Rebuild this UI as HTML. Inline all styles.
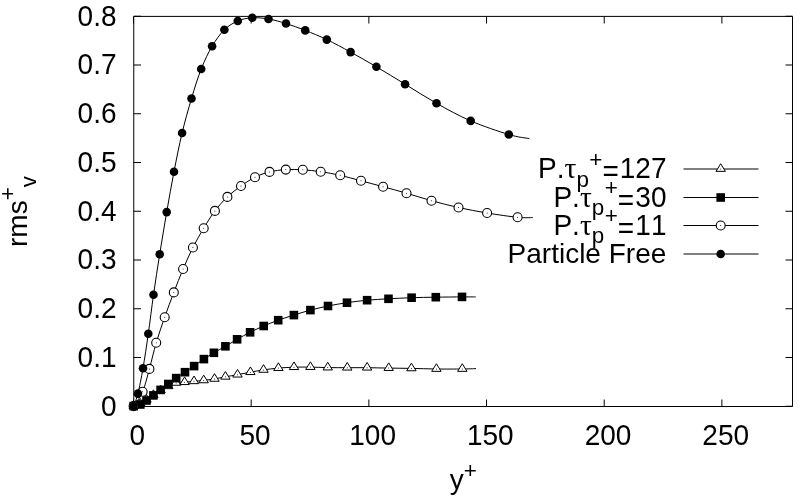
<!DOCTYPE html><html><head><meta charset="utf-8"><style>html,body{margin:0;padding:0;background:#fff;}svg{display:block;}text{font-family:"Liberation Sans",Arial,sans-serif;fill:#000;font-kerning:none;}</style></head><body>
<svg width="800" height="499" viewBox="0 0 800 499">
<rect x="0" y="0" width="800" height="499" fill="#fff"/>
<path d="M133.75,406.25H141.00 M792.50,406.25H785.50 M133.75,357.50H141.00 M792.50,357.50H785.50 M133.75,308.75H141.00 M792.50,308.75H785.50 M133.75,260.00H141.00 M792.50,260.00H785.50 M133.75,211.25H141.00 M792.50,211.25H785.50 M133.75,162.50H141.00 M792.50,162.50H785.50 M133.75,113.75H141.00 M792.50,113.75H785.50 M133.75,65.00H141.00 M792.50,65.00H785.50 M133.75,16.25H141.00 M792.50,16.25H785.50 M133.50,406.50V399.50 M133.50,16.50V23.50 M251.18,406.50V399.50 M251.18,16.50V23.50 M368.86,406.50V399.50 M368.86,16.50V23.50 M486.54,406.50V399.50 M486.54,16.50V23.50 M604.21,406.50V399.50 M604.21,16.50V23.50 M721.89,406.50V399.50 M721.89,16.50V23.50" stroke="#000" stroke-width="1" fill="none"/>
<path d="M133.75,16.4H792.5V406.5H133.75Z" stroke="#000" stroke-width="1" fill="none"/>
<text transform="translate(116.5,415.58) scale(1,1.050)" font-size="28" text-anchor="end">0</text>
<text transform="translate(116.5,366.83) scale(1,1.050)" font-size="28" text-anchor="end">0.1</text>
<text transform="translate(116.5,318.08) scale(1,1.050)" font-size="28" text-anchor="end">0.2</text>
<text transform="translate(116.5,269.33) scale(1,1.050)" font-size="28" text-anchor="end">0.3</text>
<text transform="translate(116.5,220.58) scale(1,1.050)" font-size="28" text-anchor="end">0.4</text>
<text transform="translate(116.5,171.83) scale(1,1.050)" font-size="28" text-anchor="end">0.5</text>
<text transform="translate(116.5,123.08) scale(1,1.050)" font-size="28" text-anchor="end">0.6</text>
<text transform="translate(116.5,74.33) scale(1,1.050)" font-size="28" text-anchor="end">0.7</text>
<text transform="translate(116.5,25.58) scale(1,1.050)" font-size="28" text-anchor="end">0.8</text>
<text transform="translate(137.30,445.0) scale(1,1.050)" font-size="28" text-anchor="middle">0</text>
<text transform="translate(254.98,445.0) scale(1,1.050)" font-size="28" text-anchor="middle">50</text>
<text transform="translate(372.66,445.0) scale(1,1.050)" font-size="28" text-anchor="middle">100</text>
<text transform="translate(490.34,445.0) scale(1,1.050)" font-size="28" text-anchor="middle">150</text>
<text transform="translate(608.01,445.0) scale(1,1.050)" font-size="28" text-anchor="middle">200</text>
<text transform="translate(725.69,445.0) scale(1,1.050)" font-size="28" text-anchor="middle">250</text>
<text x="449.7" y="489.3" font-size="28">y<tspan font-size="22.4" dy="-11.8">+</tspan></text>
<text transform="translate(27,247) rotate(-90)" font-size="28">rms<tspan font-size="22.4" dy="-11.6">+</tspan><tspan font-size="22.4" dy="20.4">v</tspan></text>
<path d="M133.70,406.10 C134.80,405.72 138.17,404.85 140.30,403.80 C142.43,402.75 144.32,401.25 146.50,399.80 C148.68,398.35 151.05,396.68 153.40,395.10 C155.75,393.52 158.12,391.77 160.60,390.30 C163.08,388.83 165.72,387.53 168.30,386.30 C170.88,385.07 173.38,383.58 176.10,382.90 C178.82,382.22 181.62,382.47 184.60,382.20 C187.58,381.93 190.82,381.60 194.00,381.30 C197.18,381.00 200.28,380.80 203.70,380.40 C207.12,380.00 210.88,379.50 214.50,378.90 C218.12,378.30 221.57,377.50 225.40,376.80 C229.23,376.10 233.33,375.47 237.50,374.70 C241.67,373.93 246.07,373.00 250.40,372.20 C254.73,371.40 258.83,370.58 263.50,369.90 C268.17,369.22 273.32,368.55 278.40,368.10 C283.48,367.65 288.67,367.37 294.00,367.20 C299.33,367.03 304.77,367.03 310.40,367.10 C316.02,367.17 321.61,367.50 327.75,367.60 C333.89,367.70 340.69,367.68 347.25,367.70 C353.81,367.72 360.19,367.63 367.10,367.70 C374.01,367.77 381.32,367.98 388.70,368.10 C396.08,368.22 403.45,368.25 411.40,368.40 C419.35,368.55 427.92,368.90 436.40,369.00 C444.88,369.10 455.70,369.07 462.30,369.00 C468.90,368.93 473.72,368.67 476.00,368.60" stroke="#000" stroke-width="1" fill="none"/>
<path d="M140.30,398.54 L135.60,406.15 L145.00,406.15 Z" fill="#fff" stroke="#000" stroke-width="1"/><circle cx="140.30" cy="403.80" r="0.5" fill="#000"/>
<path d="M146.50,394.54 L141.80,402.15 L151.20,402.15 Z" fill="#fff" stroke="#000" stroke-width="1"/><circle cx="146.50" cy="399.80" r="0.5" fill="#000"/>
<path d="M153.40,389.84 L148.70,397.45 L158.10,397.45 Z" fill="#fff" stroke="#000" stroke-width="1"/><circle cx="153.40" cy="395.10" r="0.5" fill="#000"/>
<path d="M160.60,385.04 L155.90,392.65 L165.30,392.65 Z" fill="#fff" stroke="#000" stroke-width="1"/><circle cx="160.60" cy="390.30" r="0.5" fill="#000"/>
<path d="M168.30,381.04 L163.60,388.65 L173.00,388.65 Z" fill="#fff" stroke="#000" stroke-width="1"/><circle cx="168.30" cy="386.30" r="0.5" fill="#000"/>
<path d="M176.10,377.64 L171.40,385.25 L180.80,385.25 Z" fill="#fff" stroke="#000" stroke-width="1"/><circle cx="176.10" cy="382.90" r="0.5" fill="#000"/>
<path d="M184.60,376.94 L179.90,384.55 L189.30,384.55 Z" fill="#fff" stroke="#000" stroke-width="1"/><circle cx="184.60" cy="382.20" r="0.5" fill="#000"/>
<path d="M194.00,376.04 L189.30,383.65 L198.70,383.65 Z" fill="#fff" stroke="#000" stroke-width="1"/><circle cx="194.00" cy="381.30" r="0.5" fill="#000"/>
<path d="M203.70,375.14 L199.00,382.75 L208.40,382.75 Z" fill="#fff" stroke="#000" stroke-width="1"/><circle cx="203.70" cy="380.40" r="0.5" fill="#000"/>
<path d="M214.50,373.64 L209.80,381.25 L219.20,381.25 Z" fill="#fff" stroke="#000" stroke-width="1"/><circle cx="214.50" cy="378.90" r="0.5" fill="#000"/>
<path d="M225.40,371.54 L220.70,379.15 L230.10,379.15 Z" fill="#fff" stroke="#000" stroke-width="1"/><circle cx="225.40" cy="376.80" r="0.5" fill="#000"/>
<path d="M237.50,369.44 L232.80,377.05 L242.20,377.05 Z" fill="#fff" stroke="#000" stroke-width="1"/><circle cx="237.50" cy="374.70" r="0.5" fill="#000"/>
<path d="M250.40,366.94 L245.70,374.55 L255.10,374.55 Z" fill="#fff" stroke="#000" stroke-width="1"/><circle cx="250.40" cy="372.20" r="0.5" fill="#000"/>
<path d="M263.50,364.64 L258.80,372.25 L268.20,372.25 Z" fill="#fff" stroke="#000" stroke-width="1"/><circle cx="263.50" cy="369.90" r="0.5" fill="#000"/>
<path d="M278.40,362.84 L273.70,370.45 L283.10,370.45 Z" fill="#fff" stroke="#000" stroke-width="1"/><circle cx="278.40" cy="368.10" r="0.5" fill="#000"/>
<path d="M294.00,361.94 L289.30,369.55 L298.70,369.55 Z" fill="#fff" stroke="#000" stroke-width="1"/><circle cx="294.00" cy="367.20" r="0.5" fill="#000"/>
<path d="M310.40,361.84 L305.70,369.45 L315.10,369.45 Z" fill="#fff" stroke="#000" stroke-width="1"/><circle cx="310.40" cy="367.10" r="0.5" fill="#000"/>
<path d="M327.75,362.34 L323.05,369.95 L332.45,369.95 Z" fill="#fff" stroke="#000" stroke-width="1"/><circle cx="327.75" cy="367.60" r="0.5" fill="#000"/>
<path d="M347.25,362.44 L342.55,370.05 L351.95,370.05 Z" fill="#fff" stroke="#000" stroke-width="1"/><circle cx="347.25" cy="367.70" r="0.5" fill="#000"/>
<path d="M367.10,362.44 L362.40,370.05 L371.80,370.05 Z" fill="#fff" stroke="#000" stroke-width="1"/><circle cx="367.10" cy="367.70" r="0.5" fill="#000"/>
<path d="M388.70,362.84 L384.00,370.45 L393.40,370.45 Z" fill="#fff" stroke="#000" stroke-width="1"/><circle cx="388.70" cy="368.10" r="0.5" fill="#000"/>
<path d="M411.40,363.14 L406.70,370.75 L416.10,370.75 Z" fill="#fff" stroke="#000" stroke-width="1"/><circle cx="411.40" cy="368.40" r="0.5" fill="#000"/>
<path d="M436.40,363.74 L431.70,371.35 L441.10,371.35 Z" fill="#fff" stroke="#000" stroke-width="1"/><circle cx="436.40" cy="369.00" r="0.5" fill="#000"/>
<path d="M462.30,363.74 L457.60,371.35 L467.00,371.35 Z" fill="#fff" stroke="#000" stroke-width="1"/><circle cx="462.30" cy="369.00" r="0.5" fill="#000"/>
<path d="M133.70,406.10 C134.80,405.83 138.17,405.43 140.30,404.50 C142.43,403.57 144.32,402.02 146.50,400.50 C148.68,398.98 151.05,397.17 153.40,395.40 C155.75,393.63 158.12,391.80 160.60,389.90 C163.08,388.00 165.70,385.97 168.30,384.00 C170.90,382.03 173.42,380.07 176.20,378.10 C178.98,376.13 182.02,374.20 185.00,372.20 C187.98,370.20 190.95,368.28 194.10,366.10 C197.25,363.92 200.60,361.32 203.90,359.10 C207.20,356.88 210.32,354.93 213.90,352.80 C217.48,350.67 221.53,348.55 225.40,346.30 C229.27,344.05 232.98,341.63 237.10,339.30 C241.22,336.97 245.67,334.52 250.10,332.30 C254.53,330.08 259.02,328.02 263.70,326.00 C268.38,323.98 273.17,322.02 278.20,320.20 C283.23,318.38 288.53,316.78 293.90,315.10 C299.27,313.42 304.72,311.62 310.40,310.10 C316.08,308.58 321.90,307.23 328.00,306.00 C334.10,304.77 340.48,303.67 347.00,302.70 C353.52,301.73 360.18,300.85 367.10,300.20 C374.02,299.55 381.08,299.22 388.50,298.80 C395.92,298.38 403.72,297.97 411.60,297.70 C419.48,297.43 427.40,297.33 435.80,297.20 C444.20,297.07 455.35,296.95 462.00,296.90 C468.65,296.85 473.42,296.90 475.70,296.90" stroke="#000" stroke-width="1" fill="none"/>
<rect x="136.00" y="400.20" width="8.60" height="8.60" fill="#000"/>
<rect x="142.20" y="396.20" width="8.60" height="8.60" fill="#000"/>
<rect x="149.10" y="391.10" width="8.60" height="8.60" fill="#000"/>
<rect x="156.30" y="385.60" width="8.60" height="8.60" fill="#000"/>
<rect x="164.00" y="379.70" width="8.60" height="8.60" fill="#000"/>
<rect x="171.90" y="373.80" width="8.60" height="8.60" fill="#000"/>
<rect x="180.70" y="367.90" width="8.60" height="8.60" fill="#000"/>
<rect x="189.80" y="361.80" width="8.60" height="8.60" fill="#000"/>
<rect x="199.60" y="354.80" width="8.60" height="8.60" fill="#000"/>
<rect x="209.60" y="348.50" width="8.60" height="8.60" fill="#000"/>
<rect x="221.10" y="342.00" width="8.60" height="8.60" fill="#000"/>
<rect x="232.80" y="335.00" width="8.60" height="8.60" fill="#000"/>
<rect x="245.80" y="328.00" width="8.60" height="8.60" fill="#000"/>
<rect x="259.40" y="321.70" width="8.60" height="8.60" fill="#000"/>
<rect x="273.90" y="315.90" width="8.60" height="8.60" fill="#000"/>
<rect x="289.60" y="310.80" width="8.60" height="8.60" fill="#000"/>
<rect x="306.10" y="305.80" width="8.60" height="8.60" fill="#000"/>
<rect x="323.70" y="301.70" width="8.60" height="8.60" fill="#000"/>
<rect x="342.70" y="298.40" width="8.60" height="8.60" fill="#000"/>
<rect x="362.80" y="295.90" width="8.60" height="8.60" fill="#000"/>
<rect x="384.20" y="294.50" width="8.60" height="8.60" fill="#000"/>
<rect x="407.30" y="293.40" width="8.60" height="8.60" fill="#000"/>
<rect x="431.50" y="292.90" width="8.60" height="8.60" fill="#000"/>
<rect x="457.70" y="292.60" width="8.60" height="8.60" fill="#000"/>
<path d="M133.60,406.10 C135.10,403.72 139.97,398.00 142.60,391.80 C145.23,385.60 147.13,377.07 149.40,368.90 C151.67,360.73 153.65,351.42 156.20,342.80 C158.75,334.18 161.77,325.60 164.70,317.20 C167.63,308.80 170.73,300.43 173.80,292.40 C176.87,284.37 179.92,276.48 183.10,269.00 C186.28,261.52 189.47,254.30 192.90,247.50 C196.33,240.70 200.03,234.30 203.70,228.20 C207.37,222.10 210.95,216.12 214.90,210.90 C218.85,205.68 223.05,201.05 227.40,196.90 C231.75,192.75 236.40,189.28 241.00,186.00 C245.60,182.72 250.25,179.55 255.00,177.20 C259.75,174.85 264.37,173.17 269.50,171.90 C274.63,170.63 280.25,169.95 285.80,169.60 C291.35,169.25 296.98,169.45 302.80,169.80 C308.62,170.15 314.47,170.78 320.70,171.70 C326.93,172.62 333.48,173.78 340.20,175.30 C346.92,176.82 353.85,178.90 361.00,180.80 C368.15,182.70 375.52,184.63 383.10,186.70 C390.68,188.77 398.43,190.87 406.50,193.20 C414.57,195.53 422.83,198.32 431.50,200.70 C440.17,203.08 449.23,205.45 458.50,207.50 C467.77,209.55 477.25,211.37 487.10,213.00 C496.95,214.63 509.98,216.53 517.60,217.30 C525.22,218.07 530.27,217.55 532.80,217.60" stroke="#000" stroke-width="1" fill="none"/>
<circle cx="142.60" cy="391.80" r="4.5" fill="#fff" stroke="#000" stroke-width="1.1"/><circle cx="142.60" cy="391.80" r="0.5" fill="#000"/>
<circle cx="149.40" cy="368.90" r="4.5" fill="#fff" stroke="#000" stroke-width="1.1"/><circle cx="149.40" cy="368.90" r="0.5" fill="#000"/>
<circle cx="156.20" cy="342.80" r="4.5" fill="#fff" stroke="#000" stroke-width="1.1"/><circle cx="156.20" cy="342.80" r="0.5" fill="#000"/>
<circle cx="164.70" cy="317.20" r="4.5" fill="#fff" stroke="#000" stroke-width="1.1"/><circle cx="164.70" cy="317.20" r="0.5" fill="#000"/>
<circle cx="173.80" cy="292.40" r="4.5" fill="#fff" stroke="#000" stroke-width="1.1"/><circle cx="173.80" cy="292.40" r="0.5" fill="#000"/>
<circle cx="183.10" cy="269.00" r="4.5" fill="#fff" stroke="#000" stroke-width="1.1"/><circle cx="183.10" cy="269.00" r="0.5" fill="#000"/>
<circle cx="192.90" cy="247.50" r="4.5" fill="#fff" stroke="#000" stroke-width="1.1"/><circle cx="192.90" cy="247.50" r="0.5" fill="#000"/>
<circle cx="203.70" cy="228.20" r="4.5" fill="#fff" stroke="#000" stroke-width="1.1"/><circle cx="203.70" cy="228.20" r="0.5" fill="#000"/>
<circle cx="214.90" cy="210.90" r="4.5" fill="#fff" stroke="#000" stroke-width="1.1"/><circle cx="214.90" cy="210.90" r="0.5" fill="#000"/>
<circle cx="227.40" cy="196.90" r="4.5" fill="#fff" stroke="#000" stroke-width="1.1"/><circle cx="227.40" cy="196.90" r="0.5" fill="#000"/>
<circle cx="241.00" cy="186.00" r="4.5" fill="#fff" stroke="#000" stroke-width="1.1"/><circle cx="241.00" cy="186.00" r="0.5" fill="#000"/>
<circle cx="255.00" cy="177.20" r="4.5" fill="#fff" stroke="#000" stroke-width="1.1"/><circle cx="255.00" cy="177.20" r="0.5" fill="#000"/>
<circle cx="269.50" cy="171.90" r="4.5" fill="#fff" stroke="#000" stroke-width="1.1"/><circle cx="269.50" cy="171.90" r="0.5" fill="#000"/>
<circle cx="285.80" cy="169.60" r="4.5" fill="#fff" stroke="#000" stroke-width="1.1"/><circle cx="285.80" cy="169.60" r="0.5" fill="#000"/>
<circle cx="302.80" cy="169.80" r="4.5" fill="#fff" stroke="#000" stroke-width="1.1"/><circle cx="302.80" cy="169.80" r="0.5" fill="#000"/>
<circle cx="320.70" cy="171.70" r="4.5" fill="#fff" stroke="#000" stroke-width="1.1"/><circle cx="320.70" cy="171.70" r="0.5" fill="#000"/>
<circle cx="340.20" cy="175.30" r="4.5" fill="#fff" stroke="#000" stroke-width="1.1"/><circle cx="340.20" cy="175.30" r="0.5" fill="#000"/>
<circle cx="361.00" cy="180.80" r="4.5" fill="#fff" stroke="#000" stroke-width="1.1"/><circle cx="361.00" cy="180.80" r="0.5" fill="#000"/>
<circle cx="383.10" cy="186.70" r="4.5" fill="#fff" stroke="#000" stroke-width="1.1"/><circle cx="383.10" cy="186.70" r="0.5" fill="#000"/>
<circle cx="406.50" cy="193.20" r="4.5" fill="#fff" stroke="#000" stroke-width="1.1"/><circle cx="406.50" cy="193.20" r="0.5" fill="#000"/>
<circle cx="431.50" cy="200.70" r="4.5" fill="#fff" stroke="#000" stroke-width="1.1"/><circle cx="431.50" cy="200.70" r="0.5" fill="#000"/>
<circle cx="458.50" cy="207.50" r="4.5" fill="#fff" stroke="#000" stroke-width="1.1"/><circle cx="458.50" cy="207.50" r="0.5" fill="#000"/>
<circle cx="487.10" cy="213.00" r="4.5" fill="#fff" stroke="#000" stroke-width="1.1"/><circle cx="487.10" cy="213.00" r="0.5" fill="#000"/>
<circle cx="517.60" cy="217.30" r="4.5" fill="#fff" stroke="#000" stroke-width="1.1"/><circle cx="517.60" cy="217.30" r="0.5" fill="#000"/>
<path d="M133.60,406.10 C134.32,404.02 136.33,399.92 137.90,393.60 C139.47,387.28 141.27,378.18 143.00,368.20 C144.73,358.22 146.55,345.93 148.30,333.70 C150.05,321.47 151.60,308.05 153.50,294.80 C155.40,281.55 157.50,267.98 159.70,254.20 C161.90,240.42 164.32,225.85 166.70,212.10 C169.08,198.35 171.43,184.88 174.00,171.70 C176.57,158.52 179.18,145.20 182.10,133.00 C185.02,120.80 188.32,109.17 191.50,98.50 C194.68,87.83 197.77,77.72 201.20,69.00 C204.63,60.28 208.23,52.74 212.10,46.20 C215.97,39.66 220.12,33.95 224.40,29.75 C228.68,25.55 233.11,23.00 237.75,21.00 C242.39,19.00 247.12,18.08 252.25,17.75 C257.38,17.42 262.88,18.04 268.50,19.00 C274.12,19.96 279.88,21.60 286.00,23.50 C292.12,25.40 298.45,27.72 305.25,30.40 C312.05,33.08 319.24,35.98 326.80,39.60 C334.36,43.22 342.33,47.57 350.60,52.10 C358.87,56.63 367.32,61.45 376.40,66.80 C385.48,72.15 395.08,78.12 405.10,84.20 C415.12,90.28 425.57,97.18 436.50,103.30 C447.43,109.42 458.65,115.70 470.70,120.90 C482.75,126.10 499.03,131.55 508.80,134.50 C518.57,137.45 525.88,137.92 529.30,138.60" stroke="#000" stroke-width="1" fill="none"/>
<circle cx="137.90" cy="393.60" r="4.3" fill="#000"/>
<circle cx="143.00" cy="368.20" r="4.3" fill="#000"/>
<circle cx="148.30" cy="333.70" r="4.3" fill="#000"/>
<circle cx="153.50" cy="294.80" r="4.3" fill="#000"/>
<circle cx="159.70" cy="254.20" r="4.3" fill="#000"/>
<circle cx="166.70" cy="212.10" r="4.3" fill="#000"/>
<circle cx="174.00" cy="171.70" r="4.3" fill="#000"/>
<circle cx="182.10" cy="133.00" r="4.3" fill="#000"/>
<circle cx="191.50" cy="98.50" r="4.3" fill="#000"/>
<circle cx="201.20" cy="69.00" r="4.3" fill="#000"/>
<circle cx="212.10" cy="46.20" r="4.3" fill="#000"/>
<circle cx="224.40" cy="29.75" r="4.3" fill="#000"/>
<circle cx="237.75" cy="21.00" r="4.3" fill="#000"/>
<circle cx="252.25" cy="17.75" r="4.3" fill="#000"/>
<circle cx="268.50" cy="19.00" r="4.3" fill="#000"/>
<circle cx="286.00" cy="23.50" r="4.3" fill="#000"/>
<circle cx="305.25" cy="30.40" r="4.3" fill="#000"/>
<circle cx="326.80" cy="39.60" r="4.3" fill="#000"/>
<circle cx="350.60" cy="52.10" r="4.3" fill="#000"/>
<circle cx="376.40" cy="66.80" r="4.3" fill="#000"/>
<circle cx="405.10" cy="84.20" r="4.3" fill="#000"/>
<circle cx="436.50" cy="103.30" r="4.3" fill="#000"/>
<circle cx="470.70" cy="120.90" r="4.3" fill="#000"/>
<circle cx="508.80" cy="134.50" r="4.3" fill="#000"/>
<path d="M133.70,400.84 L129.00,408.45 L138.40,408.45 Z" fill="#fff" stroke="#000" stroke-width="1"/><circle cx="133.70" cy="406.10" r="0.5" fill="#000"/>
<rect x="129.40" y="401.80" width="8.60" height="8.60" fill="#000"/>
<circle cx="133.60" cy="406.10" r="4.5" fill="#fff" stroke="#000" stroke-width="1.1"/><circle cx="133.60" cy="406.10" r="0.5" fill="#000"/>
<circle cx="133.60" cy="406.10" r="4.3" fill="#000"/>
<path d="M683.5,169.00H758.5" stroke="#000" stroke-width="1"/>
<path d="M720.70,163.74 L716.00,171.35 L725.40,171.35 Z" fill="#fff" stroke="#000" stroke-width="1"/><circle cx="720.70" cy="169.00" r="0.5" fill="#000"/>
<path d="M683.5,197.50H758.5" stroke="#000" stroke-width="1"/>
<rect x="716.40" y="193.20" width="8.60" height="8.60" fill="#000"/>
<path d="M683.5,225.50H758.5" stroke="#000" stroke-width="1"/>
<circle cx="720.70" cy="225.50" r="4.5" fill="#fff" stroke="#000" stroke-width="1.1"/><circle cx="720.70" cy="225.50" r="0.5" fill="#000"/>
<path d="M683.5,254.00H758.5" stroke="#000" stroke-width="1"/>
<circle cx="720.70" cy="254.00" r="4.3" fill="#000"/>
<text transform="translate(538.00,178.48) scale(1,1.050)" font-size="28">P.</text>
<text x="564.50" y="178.20" font-size="29.5" style="font-family:'Liberation Serif',serif">τ</text>
<text x="576.40" y="186.50" font-size="22.4">p</text>
<text x="589.30" y="166.50" font-size="22.4">+</text>
<text transform="translate(602.40,181.36) scale(1,1.050)" font-size="28">=</text>
<text transform="translate(666.5,178.48) scale(1,1.050)" font-size="28" text-anchor="end">127</text>
<text transform="translate(553.40,206.88) scale(1,1.050)" font-size="28">P.</text>
<text x="579.90" y="206.60" font-size="29.5" style="font-family:'Liberation Serif',serif">τ</text>
<text x="591.80" y="214.90" font-size="22.4">p</text>
<text x="604.70" y="194.90" font-size="22.4">+</text>
<text transform="translate(617.80,209.76) scale(1,1.050)" font-size="28">=</text>
<text transform="translate(666.5,206.88) scale(1,1.050)" font-size="28" text-anchor="end">30</text>
<text transform="translate(553.40,234.88) scale(1,1.050)" font-size="28">P.</text>
<text x="579.90" y="234.60" font-size="29.5" style="font-family:'Liberation Serif',serif">τ</text>
<text x="591.80" y="242.90" font-size="22.4">p</text>
<text x="604.70" y="222.90" font-size="22.4">+</text>
<text transform="translate(617.80,237.76) scale(1,1.050)" font-size="28">=</text>
<text transform="translate(666.5,234.88) scale(1,1.050)" font-size="28" text-anchor="end">11</text>
<text x="666.3" y="263.0" font-size="28" text-anchor="end">Particle Free</text>
</svg></body></html>
